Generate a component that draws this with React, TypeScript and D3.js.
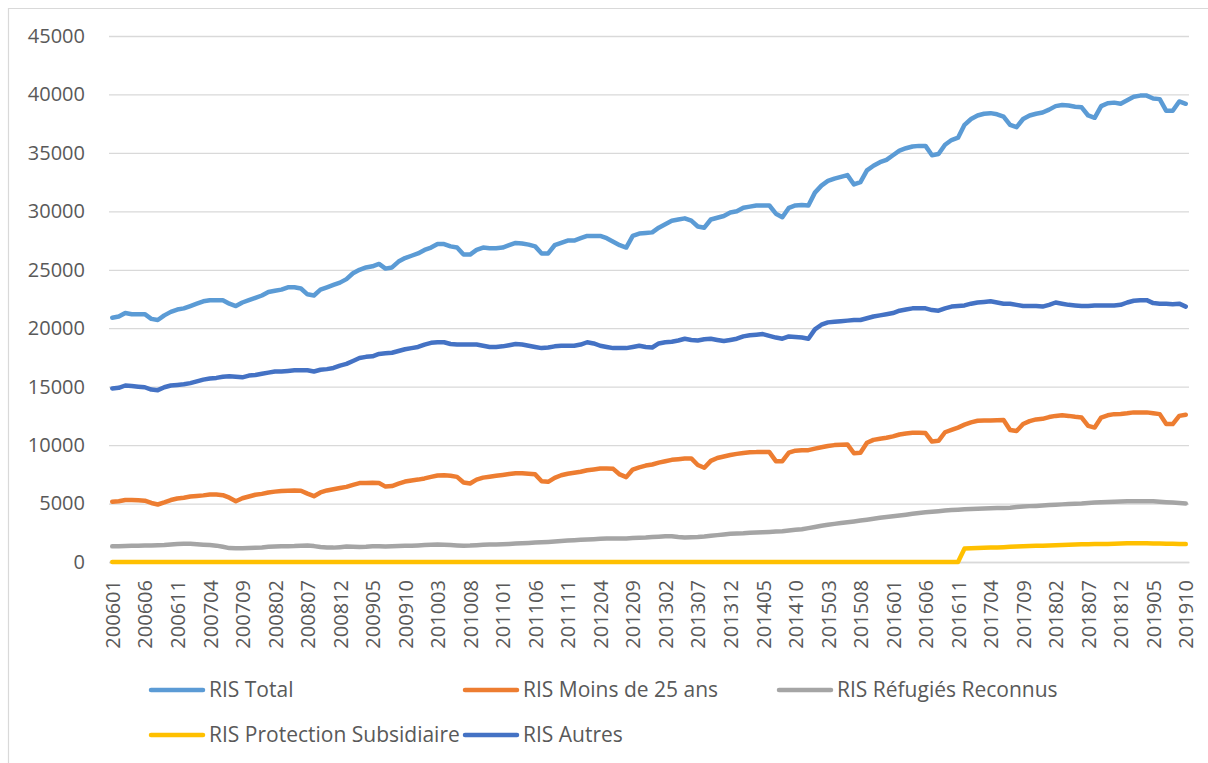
import * as d3 from "d3"
import React from "react"

// monthly categories 200601 .. 201910
const months = d3.timeMonth
  .range(new Date(2006, 0, 1), new Date(2019, 10, 1))
  .map(d3.timeFormat("%Y%m"))

const tickLabels = [
  "200601", "200606", "200611", "200704", "200709", "200802", "200807", "200812",
  "200905", "200910", "201003", "201008", "201101", "201106", "201111", "201204",
  "201209", "201302", "201307", "201312", "201405", "201410", "201503", "201508",
  "201601", "201606", "201611", "201704", "201709", "201802", "201807", "201812",
  "201905", "201910",
]

const yTicks = [0, 5000, 10000, 15000, 20000, 25000, 30000, 35000, 40000, 45000]

const risTotal = [
  20900, 21000, 21300, 21200, 21200, 21200, 20800, 20700, 21100, 21400, 21600, 21700,
  21900, 22100, 22300, 22400, 22400, 22400, 22100, 21900, 22200, 22400, 22600, 22800,
  23100, 23200, 23300, 23500, 23500, 23400, 22900, 22800, 23300, 23500, 23700, 23900,
  24200, 24700, 25000, 25200, 25300, 25500, 25100, 25200, 25700, 26000, 26200, 26400,
  26700, 26900, 27200, 27200, 27000, 26900, 26300, 26300, 26700, 26900, 26850, 26850,
  26900, 27100, 27300, 27250, 27150, 27000, 26400, 26400, 27100, 27300, 27500, 27500,
  27700, 27900, 27900, 27900, 27700, 27400, 27100, 26900, 27900, 28100, 28150, 28200,
  28600, 28900, 29200, 29300, 29400, 29200, 28700, 28600, 29300, 29450, 29600, 29900,
  30000, 30300, 30400, 30500, 30500, 30500, 29800, 29500, 30300, 30500, 30550, 30500,
  31600, 32200, 32600, 32800, 32950, 33100, 32300, 32500, 33500, 33900, 34200, 34400,
  34800, 35200, 35400, 35550, 35600, 35600, 34800, 34900, 35700, 36100, 36300, 37400,
  37900, 38200, 38350, 38400, 38300, 38100, 37400, 37200, 37900, 38200, 38350, 38450,
  38700, 39000, 39100, 39050, 38950, 38900, 38200, 38000, 39000, 39250, 39300, 39200,
  39500, 39800, 39900, 39900, 39650, 39600, 38600, 38600, 39400, 39200,
]

const risMoins25 = [
  5150, 5200, 5300, 5300, 5280, 5250, 5050, 4920, 5100, 5300, 5430, 5500,
  5600, 5650, 5700, 5770, 5770, 5720, 5500, 5200, 5450, 5600, 5750, 5830,
  5950, 6020, 6080, 6100, 6110, 6100, 5850, 5630, 5950, 6120, 6220, 6330,
  6430, 6600, 6750, 6750, 6770, 6750, 6450, 6500, 6700, 6880, 6980, 7050,
  7150, 7280, 7400, 7420, 7380, 7280, 6800, 6720, 7050, 7220, 7300, 7380,
  7450, 7520, 7600, 7600, 7550, 7500, 6910, 6860, 7200, 7420, 7550, 7630,
  7720, 7850, 7920, 8000, 7990, 7970, 7490, 7260, 7910, 8100, 8250, 8340,
  8500, 8620, 8740, 8800, 8850, 8860, 8300, 8060, 8650, 8900, 9030, 9150,
  9250, 9330, 9380, 9400, 9400, 9400, 8630, 8630, 9350, 9520, 9570, 9570,
  9700, 9820, 9920, 10000, 10030, 10060, 9300, 9340, 10200, 10450, 10550, 10630,
  10750, 10910, 11000, 11050, 11050, 11030, 10300, 10370, 11100, 11300, 11500, 11750,
  11950, 12080, 12100, 12100, 12120, 12140, 11300, 11200, 11800, 12050, 12200, 12250,
  12400, 12500, 12560, 12500, 12420, 12360, 11650, 11500, 12360, 12550, 12650, 12660,
  12720, 12800, 12800, 12800, 12720, 12650, 11800, 11800, 12500, 12600,
]

const risRefugies = [
  1340, 1350, 1370, 1380, 1400, 1410, 1420, 1430, 1450, 1500, 1540, 1560,
  1560, 1520, 1480, 1450, 1400, 1300, 1190, 1180, 1180, 1200, 1220, 1250,
  1300, 1330, 1340, 1340, 1360, 1400, 1420, 1360, 1280, 1240, 1230, 1270,
  1320, 1300, 1280, 1300, 1340, 1350, 1330, 1340, 1360, 1380, 1400, 1420,
  1450, 1480, 1500, 1480, 1450, 1420, 1400, 1410, 1440, 1470, 1490, 1500,
  1520, 1550, 1580, 1600, 1630, 1660, 1690, 1720, 1760, 1800, 1830, 1860,
  1900, 1920, 1950, 1980, 2000, 2000, 2000, 2020, 2050, 2080, 2100, 2140,
  2170, 2200, 2200, 2140, 2100, 2120, 2140, 2180, 2240, 2300, 2360, 2420,
  2440, 2460, 2500, 2520, 2550, 2570, 2600, 2640, 2700, 2750, 2800, 2900,
  3000, 3100, 3180, 3260, 3330, 3400, 3470, 3550, 3620, 3700, 3780, 3850,
  3920, 3980, 4050, 4120, 4200, 4250, 4300, 4350, 4400, 4440, 4480, 4520,
  4540, 4560, 4580, 4600, 4620, 4620, 4650, 4700, 4750, 4780, 4800, 4830,
  4870, 4900, 4930, 4960, 4980, 5000, 5050, 5100, 5120, 5140, 5160, 5180,
  5190, 5200, 5200, 5190, 5190, 5150, 5120, 5100, 5050, 5000,
]

const risProtection = [
  0, 0, 0, 0, 0, 0, 0, 0, 0, 0, 0, 0,
  0, 0, 0, 0, 0, 0, 0, 0, 0, 0, 0, 0,
  0, 0, 0, 0, 0, 0, 0, 0, 0, 0, 0, 0,
  0, 0, 0, 0, 0, 0, 0, 0, 0, 0, 0, 0,
  0, 0, 0, 0, 0, 0, 0, 0, 0, 0, 0, 0,
  0, 0, 0, 0, 0, 0, 0, 0, 0, 0, 0, 0,
  0, 0, 0, 0, 0, 0, 0, 0, 0, 0, 0, 0,
  0, 0, 0, 0, 0, 0, 0, 0, 0, 0, 0, 0,
  0, 0, 0, 0, 0, 0, 0, 0, 0, 0, 0, 0,
  0, 0, 0, 0, 0, 0, 0, 0, 0, 0, 0, 0,
  0, 0, 0, 0, 0, 0, 0, 0, 0, 0, 0, 1150,
  1180, 1200, 1220, 1240, 1250, 1270, 1300, 1320, 1340, 1360, 1380, 1400,
  1420, 1440, 1460, 1480, 1500, 1510, 1520, 1530, 1540, 1550, 1560, 1580,
  1600, 1600, 1600, 1600, 1590, 1580, 1570, 1560, 1550, 1530,
]

const risAutres = [
  14850, 14900, 15100, 15050, 15000, 14950, 14750, 14700, 14950, 15100, 15150, 15200,
  15300, 15450, 15600, 15700, 15750, 15850, 15900, 15850, 15800, 15950, 16000, 16100,
  16200, 16300, 16300, 16350, 16400, 16400, 16400, 16300, 16450, 16500, 16600, 16800,
  16950, 17200, 17450, 17550, 17600, 17800, 17850, 17900, 18050, 18200, 18300, 18400,
  18600, 18750, 18800, 18800, 18650, 18600, 18600, 18600, 18600, 18500, 18400, 18400,
  18450, 18550, 18650, 18600, 18500, 18400, 18300, 18350, 18450, 18500, 18500, 18500,
  18600, 18800, 18700, 18500, 18400, 18300, 18300, 18300, 18400, 18500, 18400, 18350,
  18700, 18800, 18850, 18950, 19100, 19000, 18950, 19050, 19100, 19000, 18900, 19000,
  19100, 19300, 19400, 19450, 19500, 19350, 19200, 19100, 19300, 19250, 19200, 19100,
  19900, 20300, 20500, 20550, 20600, 20650, 20700, 20700, 20850, 21000, 21100, 21200,
  21300, 21500, 21600, 21700, 21700, 21700, 21550, 21500, 21700, 21850, 21900, 21950,
  22100, 22200, 22250, 22300, 22200, 22100, 22100, 22000, 21900, 21900, 21900, 21850,
  22000, 22200, 22100, 22000, 21950, 21900, 21900, 21950, 21950, 21950, 21950, 22000,
  22200, 22350, 22400, 22400, 22150, 22100, 22100, 22050, 22100, 21850,
]

const seriesNames = [
  "RIS Total",
  "RIS Moins de 25 ans",
  "RIS Réfugiés Reconnus",
  "RIS Protection Subsidiaire",
  "RIS Autres",
]
const seriesColors = ["#5B9BD5", "#ED7D31", "#A5A5A5", "#FFC000", "#4472C4"]
const seriesValues = [risTotal, risMoins25, risRefugies, risProtection, risAutres]

const width = 1208
const height = 763
const font = "'Open Sans', sans-serif"
const textColor = "#595959"
const gridColor = "#D9D9D9"

const drawChart = (node: SVGSVGElement) => {
  const plotLeft = 109
  const plotRight = 1189
  const plotTop = 36
  const plotBottom = 562

  const x = d3.scalePoint(months, [plotLeft, plotRight]).padding(0.5)
  const y = d3.scaleLinear([0, 45000], [plotBottom, plotTop])

  const svg = d3.select(node)
  svg.selectAll("*").remove()

  svg.append("rect").attr("width", width).attr("height", height).attr("fill", "#fff")

  // chart border (only left and top edges are visible in the frame)
  svg.append("path")
    .attr("d", `M8.5,${height}V8.5H${width}`)
    .attr("fill", "none")
    .attr("stroke", gridColor)
    .attr("stroke-width", 1.2)

  svg.append("g")
    .attr("transform", `translate(${plotLeft},0)`)
    .call(d3.axisLeft(y).tickValues(yTicks).tickSize(-(plotRight - plotLeft)).tickPadding(24).tickFormat(d3.format("d")))
    .call((g: any) => g.select(".domain").remove())
    .call((g: any) => g.selectAll(".tick line").attr("stroke", gridColor).attr("stroke-width", 1.3))
    .call((g: any) => g.selectAll(".tick text")
      .attr("fill", textColor)
      .attr("font-size", 20)
      .attr("font-family", font))

  svg.append("g")
    .attr("transform", `translate(0,${plotBottom})`)
    .call(d3.axisBottom(x).tickValues(tickLabels).tickSize(0).tickSizeOuter(0))
    .call((g: any) => g.select(".domain").attr("stroke", gridColor).attr("stroke-width", 1.3))
    .call((g: any) => g.selectAll(".tick text")
      .attr("transform", "rotate(-90)")
      .attr("text-anchor", "end")
      .attr("x", -18)
      .attr("y", 0)
      .attr("dy", "0.36em")
      .attr("fill", textColor)
      .attr("font-size", 20)
      .attr("font-family", font))

  const line = d3.line<number>()
    .x((d, i) => x(months[i]) as number)
    .y(d => y(d))

  svg.append("g")
    .attr("fill", "none")
    .attr("stroke-width", 4.5)
    .attr("stroke-linejoin", "round")
    .attr("stroke-linecap", "round")
    .selectAll("path")
    .data(seriesValues)
    .join("path")
    .attr("stroke", (d, i) => seriesColors[i])
    .attr("d", d => line(d))

  // legend: three columns, two rows
  const legendCols = [149, 463, 777]
  const legendRows = [690, 735]
  const legend = svg.append("g")
    .selectAll("g")
    .data(seriesNames)
    .join("g")
    .attr("transform", (d, i) => `translate(${legendCols[i % 3]},${legendRows[Math.floor(i / 3)]})`)

  legend.append("line")
    .attr("x1", 2)
    .attr("x2", 54)
    .attr("stroke", (d, i) => seriesColors[i])
    .attr("stroke-width", 4.5)
    .attr("stroke-linecap", "round")

  legend.append("text")
    .attr("x", 60)
    .attr("dy", "0.35em")
    .attr("fill", textColor)
    .attr("font-size", 21)
    .attr("font-family", font)
    .text(d => d)
}

const App = () => {
  const ref = React.useRef<SVGSVGElement>(null)

  React.useEffect(() => {
    if (ref.current) drawChart(ref.current)
  }, [])

  return (
    <div style={{ position: "absolute", left: 0, top: 0 }}>
      <svg ref={ref} width={width} height={height} viewBox={`0 0 ${width} ${height}`} style={{ display: "block" }} />
    </div>
  )
}

export default App
